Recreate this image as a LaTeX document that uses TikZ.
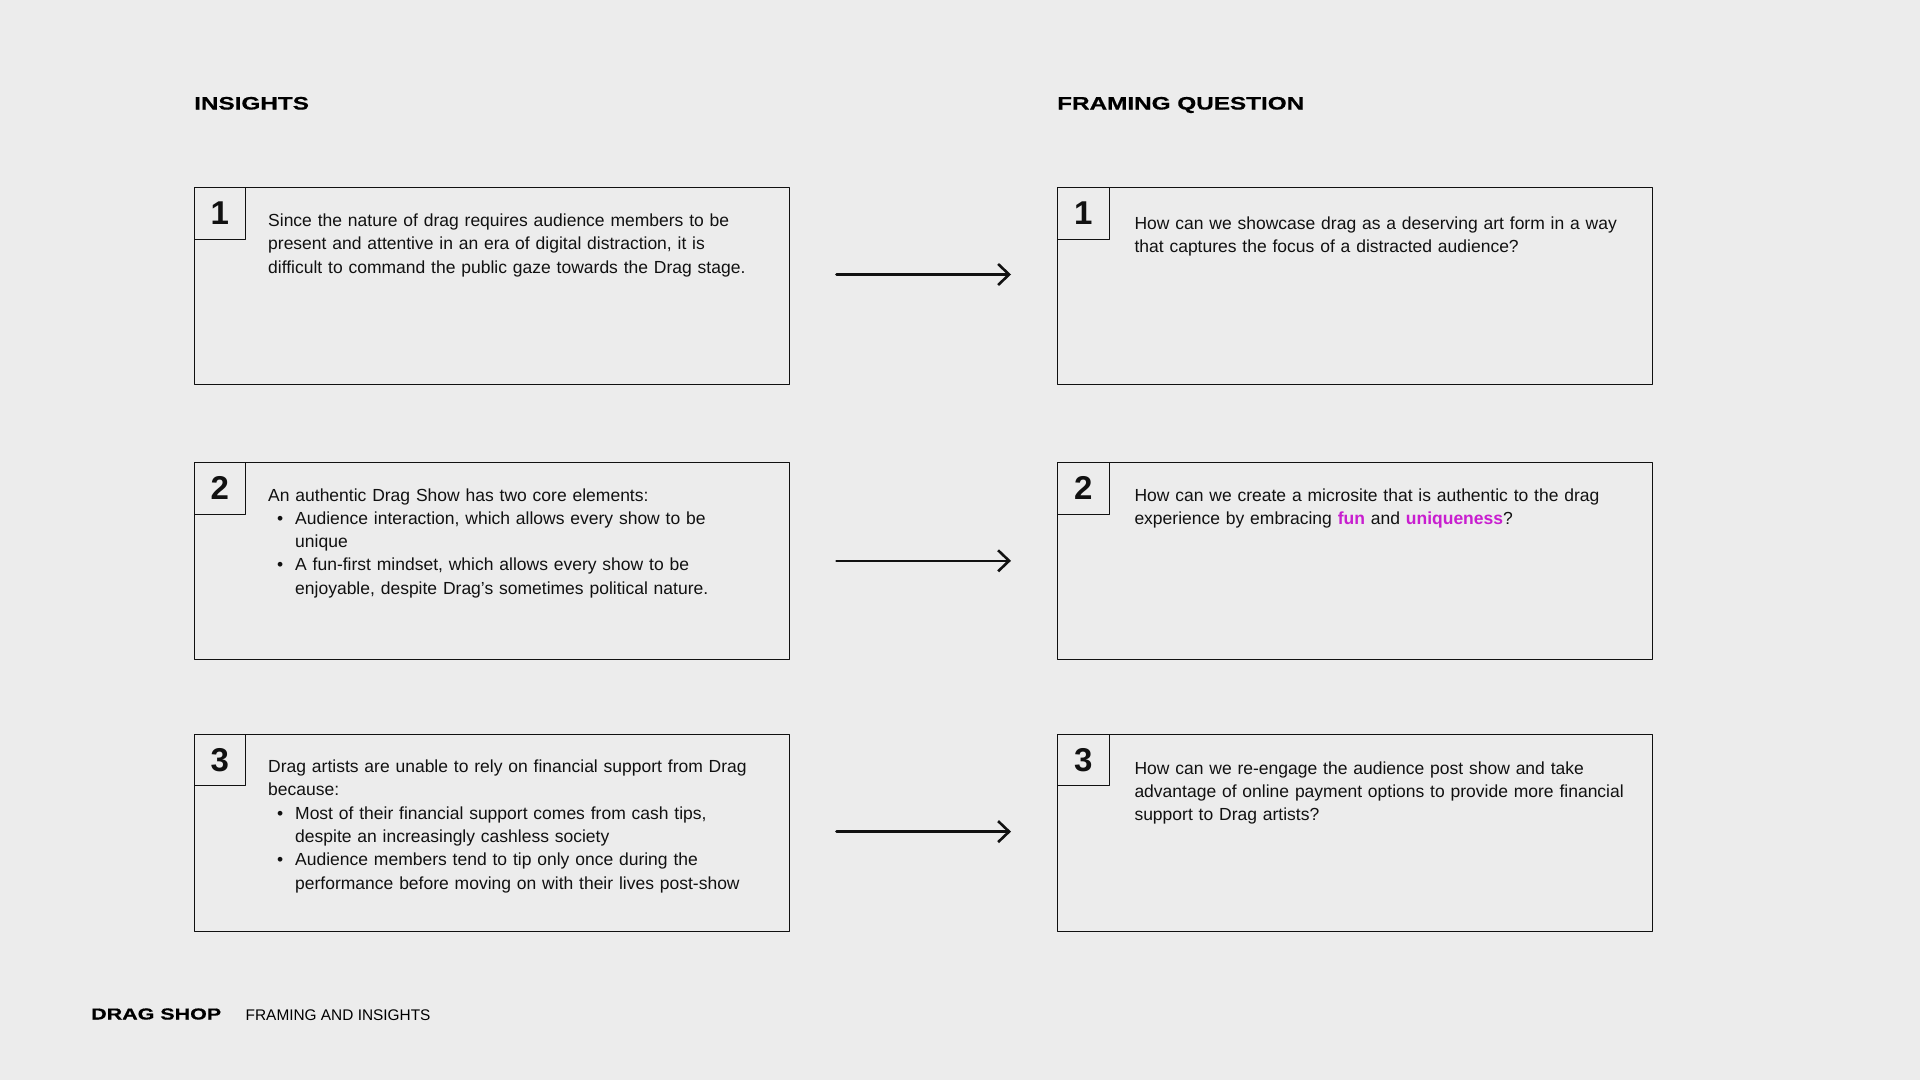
\documentclass[tikz,border=0pt]{standalone}
\usepackage{fontspec}
\setmainfont{Liberation Sans}
\newfontfamily\widefont[FakeStretch=1.35,FakeBold=0.6]{Liberation Sans}
\usetikzlibrary{arrows.meta}
\definecolor{paper}{HTML}{ECECEC}
\definecolor{ink}{HTML}{111111}
\definecolor{hot}{HTML}{C81ECF}
\newcommand\bul{\par\hangindent=27pt\hangafter=1\noindent\hbox to 27pt{\hskip 9pt\textbullet\hfil}}
\newcommand\hot[1]{\textcolor{hot}{\textbf{#1}}}
\tikzset{
  card/.style={draw=ink,line width=1pt,minimum width=595pt,minimum height=197pt,inner sep=0pt,anchor=north west},
  numbox/.style={draw=ink,line width=1pt,minimum size=51.5pt,inner sep=0pt,anchor=north west,text=ink,font=\bfseries\fontsize{33}{33}\selectfont},
  body/.style={anchor=base west,inner sep=0pt,text width=515pt,align=left,text=ink,font=\fontsize{17.5}{23.3}\selectfont},
  head/.style={anchor=base west,inner sep=0pt,text=black,font=\widefont\bfseries\fontsize{18}{18}\selectfont},
  foot/.style={anchor=base west,inner sep=0pt,text=black,font=\fontsize{15.4}{15.4}\selectfont},
  link/.style={->,draw=ink,line width=2.6pt}
}
\begin{document}
\begin{tikzpicture}[line cap=round,line join=round,>={Straight Barb[length=11pt,width=21pt]},x=1pt,y=-1pt]
	\useasboundingbox (0,0) rectangle (1920,1080);
	\fill[paper] (0,0) rectangle (1920,1080);
	\node[head] (hins) at (194,109.5) {INSIGHTS};
	\node[head] (hfq) at (1057,109.5) {FRAMING QUESTION};
	\node[card] (i1) at (193.5,187.3) {};
	\node[card] (i2) at (193.5,462) {};
	\node[card] (i3) at (193.5,733.8) {};
	\node[card] (f1) at (1057,187.3) {};
	\node[card] (f2) at (1057,462) {};
	\node[card] (f3) at (1057,733.8) {};
	\node[numbox] (ni1) at (i1.north west) {1};
	\node[numbox] (ni2) at (i2.north west) {2};
	\node[numbox] (ni3) at (i3.north west) {3};
	\node[numbox] (nf1) at (f1.north west) {1};
	\node[numbox] (nf2) at (f2.north west) {2};
	\node[numbox] (nf3) at (f3.north west) {3};
	\node[body] (ti1) at (268,226.5) {Since the nature of drag requires audience members to be\\
		present and attentive in an era of digital distraction, it is\\
		difficult to command the public gaze towards the Drag stage.};
	\node[body] (ti2) at (268,501) {An authentic Drag Show has two core elements:
		\bul Audience interaction, which allows every show to be\newline unique
		\bul A fun-first mindset, which allows every show to be\newline enjoyable, despite Drag’s sometimes political nature.\par};
	\node[body] (ti3) at (268,772.5) {Drag artists are unable to rely on financial support from Drag\\
		because:
		\bul Most of their financial support comes from cash tips,\newline despite an increasingly cashless society
		\bul Audience members tend to tip only once during the\newline performance before moving on with their lives post-show\par};
	\node[body] (tf1) at (1134.3,229.5) {How can we showcase drag as a deserving art form in a way\\
		that captures the focus of a distracted audience?};
	\node[body] (tf2) at (1134.3,501) {How can we create a microsite that is authentic to the drag\\
		experience by embracing \hot{fun} and \hot{uniqueness}?};
	\node[body] (tf3) at (1134.3,774) {How can we re-engage the audience post show and take\\
		advantage of online payment options to provide more financial\\
		support to Drag artists?};
	\coordinate (a1) at (836.5,274.5);
	\coordinate (b1) at (1011,274.5);
	\coordinate (a2) at (836.5,560.8);
	\coordinate (b2) at (1011,560.8);
	\coordinate (a3) at (836.5,831.6);
	\coordinate (b3) at (1011,831.6);
	\draw[link] (a1) -- (b1);
	\draw[link] (a2) -- (b2);
	\draw[link] (a3) -- (b3);
	\node[head,font=\widefont\bfseries\fontsize{15.9}{15.9}\selectfont] (brand) at (91,1019.5) {DRAG SHOP};
	\node[foot] (page) at (245.5,1020) {FRAMING AND INSIGHTS};
\end{tikzpicture}
\end{document}
